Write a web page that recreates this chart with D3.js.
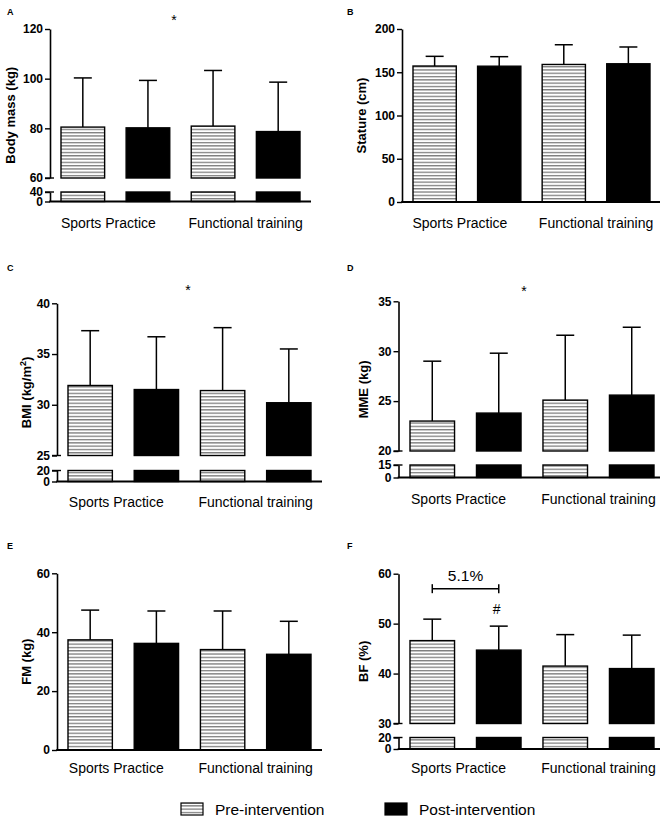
<!DOCTYPE html>
<html><head><meta charset="utf-8">
<script src="https://cdn.jsdelivr.net/npm/d3@7"></script>
<style>body{margin:0;background:#fff} svg{display:block;font-family:"Liberation Sans",Arial,sans-serif}</style>
</head><body><svg id="c" width="669" height="819"></svg>
<script>
// ---------- data ----------
const categories = ["Sports Practice", "Functional training"];
const conditions = ["Pre-intervention", "Post-intervention"];
// order of bars: SP-pre, SP-post, FT-pre, FT-post
const bodyMassMean = [80.5, 80.2, 80.9, 78.7];
const bodyMassSD   = [19.8, 19.1, 22.4, 19.9];
const bodyMassUpperTicks = [60, 80, 100, 120];
const bodyMassLowerTicks = [0, 40];

const statureMean = [157.2, 157.0, 159.0, 159.8];
const statureSD   = [11.2, 11.0, 22.8, 19.4];
const statureTicks = [0, 50, 100, 150, 200];

const bmiMean = [31.9, 31.5, 31.4, 30.2];
const bmiSD   = [5.4, 5.2, 6.2, 5.3];
const bmiUpperTicks = [25, 30, 35, 40];
const bmiLowerTicks = [0, 20];

const mmeMean = [23.0, 23.8, 25.1, 25.6];
const mmeSD   = [6.0, 6.0, 6.5, 6.8];
const mmeUpperTicks = [20, 25, 30, 35];
const mmeLowerTicks = [0, 15];

const fmMean = [37.4, 36.2, 34.1, 32.5];
const fmSD   = [10.1, 11.0, 13.1, 11.2];
const fmTicks = [0, 20, 40, 60];

const bfMean = [46.6, 44.7, 41.5, 41.0];
const bfSD   = [4.3, 4.8, 6.3, 6.7];
const bfUpperTicks = [30, 40, 50, 60];
const bfLowerTicks = [0, 20];
const bfBracketValue = 57;
const bfBracketText = "5.1%";

const panelLetters = ["A", "B", "C", "D", "E", "F"];
const yTitles = ["Body mass (kg)", "Stature (cm)", "BMI (kg/m", "MME  (kg)", "FM  (kg)", "BF (%)"];

// ---------- layout ----------
const labelShift = [-7, 0];
const layouts = [
  {axisX:50, xEnd:311, base:201.5, top:29, upperBottom:178, lowerTop:192, bars:[61,300], labelDy:26, titleX:15, letter:[7,15], star:[174,25]},
  {axisX:402, xEnd:660, base:202, top:29, bars:[413,650], labelDy:26, titleX:366, letter:[347,15]},
  {axisX:57, xEnd:322, base:481.5, top:303.3, upperBottom:455.5, lowerTop:470.5, bars:[68,311], labelDy:25.5, titleX:31, letter:[7,271], star:[188,295]},
  {axisX:398.5, xEnd:660, base:477.5, top:301.3, upperBottom:451, lowerTop:465, bars:[410,654], labelDy:26.5, titleX:368, letter:[347,271], star:[524,296]},
  {axisX:57, xEnd:322, base:750, top:573.3, bars:[68,311], labelDy:23, titleX:31, letter:[7,549]},
  {axisX:398.5, xEnd:660, base:749, top:573.7, upperBottom:723.5, lowerTop:737.5, bars:[410,654], labelDy:24, titleX:368, letter:[347,549]}
];

const panels = [
  {mean:bodyMassMean, sd:bodyMassSD, upper:bodyMassUpperTicks, lower:bodyMassLowerTicks},
  {mean:statureMean, sd:statureSD, upper:statureTicks},
  {mean:bmiMean, sd:bmiSD, upper:bmiUpperTicks, lower:bmiLowerTicks},
  {mean:mmeMean, sd:mmeSD, upper:mmeUpperTicks, lower:mmeLowerTicks},
  {mean:fmMean, sd:fmSD, upper:fmTicks},
  {mean:bfMean, sd:bfSD, upper:bfUpperTicks, lower:bfLowerTicks}
];

const svg = d3.select("#c");
const defs = svg.append("defs");
const pat = defs.append("pattern").attr("id","hatch").attr("patternUnits","userSpaceOnUse")
  .attr("width",10).attr("height",3.3);
pat.append("rect").attr("width",10).attr("height",3.3).attr("fill","#fff");
pat.append("rect").attr("x",0).attr("y",0.2).attr("width",10).attr("height",1).attr("fill","#555");
const fills = ["url(#hatch)", "#000"];

function styleAxis(g){
  g.select(".domain").attr("stroke","#000").attr("stroke-width",1.6);
  g.selectAll(".tick line").attr("stroke","#000").attr("stroke-width",1.4);
  g.selectAll(".tick text").attr("font-size",12).attr("font-weight","bold")
    .attr("font-family","'Liberation Sans',Arial,sans-serif").attr("fill","#000");
}

panels.forEach((p, k) => {
  const L = layouts[k];
  const g = svg.append("g");
  const x = d3.scaleBand().domain(d3.range(p.mean.length)).range(L.bars).paddingInner(0.33).paddingOuter(0);
  const bw = x.bandwidth();
  const broken = !!p.lower;
  const yU = d3.scaleLinear().domain(d3.extent(p.upper)).range([broken ? L.upperBottom : L.base, L.top]);
  const yL = broken ? d3.scaleLinear().domain(d3.extent(p.lower)).range([L.base, L.lowerTop]) : null;

  // bars
  p.mean.forEach((v, i) => {
    const lo = yU.domain()[0];
    g.append("rect").attr("x", x(i)).attr("y", yU(v)).attr("width", bw).attr("height", yU(lo) - yU(v))
      .attr("fill", fills[i % 2]).attr("stroke", "#000").attr("stroke-width", 1.4);
    if (broken) {
      const top = yL.domain()[1];
      g.append("rect").attr("x", x(i)).attr("y", yL(top)).attr("width", bw).attr("height", yL(0) - yL(top))
        .attr("fill", fills[i % 2]).attr("stroke", "#000").attr("stroke-width", 1.4);
    }
    // error bar (upper SD only)
    const cx = x(i) + bw / 2;
    g.append("line").attr("x1", cx).attr("x2", cx).attr("y1", yU(v)).attr("y2", yU(v + p.sd[i]))
      .attr("stroke", "#000").attr("stroke-width", 1.5);
    g.append("line").attr("x1", cx - 9).attr("x2", cx + 9).attr("y1", yU(v + p.sd[i])).attr("y2", yU(v + p.sd[i]))
      .attr("stroke", "#000").attr("stroke-width", 1.5);
  });

  // y axis
  const ga = g.append("g").attr("transform", `translate(${L.axisX},0)`)
    .call(d3.axisLeft(yU).tickValues(p.upper).tickSize(5).tickSizeOuter(0).tickPadding(2).tickFormat(d3.format("d")));
  styleAxis(ga);
  if (broken) {
    const gb = g.append("g").attr("transform", `translate(${L.axisX},0)`)
      .call(d3.axisLeft(yL).tickValues(p.lower).tickSize(5).tickSizeOuter(0).tickPadding(2).tickFormat(d3.format("d")));
    styleAxis(gb);
    // break caps
    [yU(yU.domain()[0]), yL(yL.domain()[1])].forEach(yy => {
      g.append("line").attr("x1", L.axisX - 5).attr("x2", L.axisX + 4).attr("y1", yy).attr("y2", yy)
        .attr("stroke", "#000").attr("stroke-width", 1.4);
    });
  }
  // x baseline
  g.append("line").attr("x1", L.axisX - 0.8).attr("x2", L.xEnd).attr("y1", L.base).attr("y2", L.base)
    .attr("stroke", "#000").attr("stroke-width", 1.8);

  // category labels
  categories.forEach((c, j) => {
    const cx = (x(2 * j) + x(2 * j + 1) + bw) / 2 + labelShift[j];
    g.append("text").attr("x", cx).attr("y", L.base + L.labelDy).attr("text-anchor", "middle")
      .attr("font-size", 14).attr("fill", "#000").text(c);
  });

  // y title
  const cy = (L.top + L.base) / 2;
  const t = g.append("text").attr("transform", `translate(${L.titleX},${cy}) rotate(-90)`)
    .attr("text-anchor", "middle").attr("font-size", 13).attr("font-weight", "bold").attr("fill", "#000")
    .text(yTitles[k]);
  if (k === 2) {
    t.append("tspan").attr("font-size", 9).attr("dy", -5).text("2");
    t.append("tspan").attr("dy", 5).text(")");
  }

  // panel letter
  g.append("text").attr("x", L.letter[0]).attr("y", L.letter[1]).attr("font-size", 9).attr("font-weight", "bold")
    .attr("fill", "#000").text(panelLetters[k]);

  // significance star
  if (L.star) {
    g.append("text").attr("x", L.star[0]).attr("y", L.star[1]).attr("text-anchor", "middle")
      .attr("font-size", 14).attr("fill", "#000").text("*");
  }

  // bracket in F
  if (k === 5) {
    const x1 = x(0) + bw / 2, x2 = x(1) + bw / 2, yb = yU(bfBracketValue);
    g.append("line").attr("x1", x1).attr("x2", x2).attr("y1", yb).attr("y2", yb).attr("stroke", "#000").attr("stroke-width", 1.5);
    [x1, x2].forEach(xx => g.append("line").attr("x1", xx).attr("x2", xx).attr("y1", yb - 4.5).attr("y2", yb + 4.5)
      .attr("stroke", "#000").attr("stroke-width", 1.5));
    g.append("text").attr("x", (x1 + x2) / 2).attr("y", yb - 8).attr("text-anchor", "middle")
      .attr("font-size", 15.5).attr("fill", "#000").text(bfBracketText);
    g.append("text").attr("x", x2 - 2).attr("y", yU(p.mean[1] + p.sd[1]) - 12).attr("text-anchor", "middle")
      .attr("font-size", 14).attr("fill", "#000").text("#");
  }
});

// legend
const leg = svg.append("g");
const legBoxes = [[181, 803], [385, 803]];
conditions.forEach((c, i) => {
  leg.append("rect").attr("x", legBoxes[i][0]).attr("y", legBoxes[i][1]).attr("width", 22).attr("height", 12)
    .attr("fill", fills[i]).attr("stroke", "#000").attr("stroke-width", 1.2);
  leg.append("text").attr("x", legBoxes[i][0] + 34).attr("y", legBoxes[i][1] + 11.5)
    .attr("font-size", 15.5).attr("fill", "#000").text(c);
});
</script>
</body></html>
